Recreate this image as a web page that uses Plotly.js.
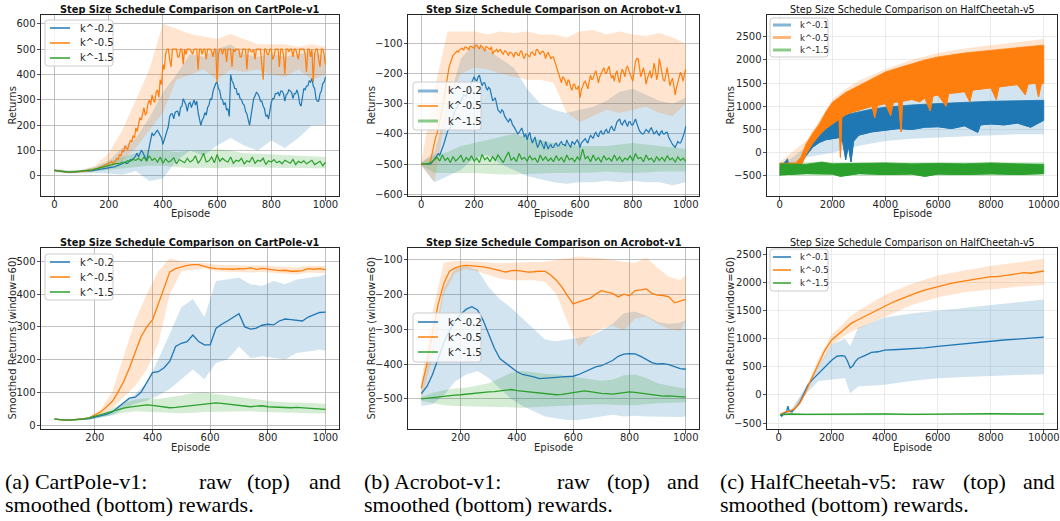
<!DOCTYPE html>
<html><head><meta charset="utf-8">
<script src="https://cdn.plot.ly/plotly-3.0.1.min.js"></script>
<style>html,body{margin:0;padding:0;background:#fff}#chart{width:1060px;height:521px}</style>
</head><body><div id="chart"></div><script>
// ---------- DATA ----------
const seriesNames = ['k^-0.2', 'k^-0.5', 'k^-1.5'];
const seriesNamesHC = ['k^-0.1', 'k^-0.5', 'k^-1.5'];

// raw episodes (every 5 and every 10 episodes)
const rawEpisodes5 = Array.from({length: 201}, (_, i) => i * 5);
const rawEpisodes10 = Array.from({length: 101}, (_, i) => i * 10);

const cpRawBlue = [22,21,20,19,18,17,17,16,16,15,15,15,15,16,16,16,16,17,17,18,
  18,18,18,19,20,19,19,20,21,22,22,23,24,25,25,27,28,29,30,31,
  32,34,35,33,34,37,40,42,42,45,48,52,55,50,50,58,65,62,70,72,
  80,90,75,85,100,95,85,70,60,90,120,150,170,160,165,175,180,170,160,150,
  125,145,160,185,195,235,245,245,225,250,255,255,235,270,275,305,295,280,255,285,
  290,270,285,300,280,295,250,225,200,220,230,250,240,270,280,305,300,335,350,365,
  370,345,335,305,300,280,290,260,265,235,400,375,365,345,345,320,325,305,300,285,
  280,255,245,215,200,235,265,305,315,330,325,315,295,295,275,265,235,240,225,265,
  290,305,305,325,325,330,315,335,335,325,295,320,325,340,335,330,305,325,325,340,
  320,285,275,305,345,340,355,355,375,370,385,355,345,305,295,295,325,335,365,370,
  390];
const cpRawOrange = [22,21,20,19,18,18,17,16,15,15,14,15,15,16,16,15,15,16,17,18,
  18,19,20,19,19,21,22,23,24,26,28,27,30,33,35,34,38,42,44,46,
  48,52,58,50,52,62,70,66,85,78,100,95,120,110,105,125,140,135,160,150,
  190,175,210,230,220,250,270,240,250,285,300,280,320,300,290,330,340,310,380,360,
  440,420,480,500,500,460,430,500,500,500,500,470,470,500,500,440,500,480,500,500,
  500,490,480,500,500,500,420,500,500,480,500,500,460,500,500,500,490,470,500,500,
  370,480,500,500,480,500,500,450,500,500,500,430,500,490,500,500,500,470,470,500,
  500,500,420,500,500,490,490,500,460,500,500,500,500,440,380,500,500,480,480,500,
  500,460,470,500,500,500,430,500,500,480,400,500,500,490,500,500,470,500,500,480,
  460,500,500,500,500,480,410,500,500,470,500,370,480,500,500,460,430,500,500,480,
  440];
const cpRawGreen = [22,20,18,17,16,15,15,16,16,17, 18,19,20,22,24,27,30,33,36,38, 40,42,45,50,48,55,52,60,58,65,
  62,70,60,75,58,80,62,70,55,75, 50,68,55,60,72,48,65,58,52,70, 55,62,80,50,65,90,55,60,75,52,
  85,58,70,60,55,75,50,62,58,70, 48,60,55,75,50,62,58,70,45,60, 55,65,52,58,48,62,55,50,65,45,
  58,52,60,48,55,62,45,52,58,40, 55];

const rawBandEpisodes = [0,50,100,150,200,250,300,350,400,450,500,550,600,650,700,750,800,850,900,950,1000];
const cpRawBlueUp = [28,22,25,35,60,110,150,230,330,400,480,470,500,520,480,470,480,470,480,490,470];
const cpRawBlueLo = [16,10,12,12,10,5,20,-20,-10,60,100,80,120,150,120,100,140,110,150,200,200];
const cpRawOrangeUp = [28,20,24,40,90,180,300,420,600,580,560,550,540,560,540,520,520,520,510,520,510];
const cpRawOrangeLo = [16,12,14,20,30,60,110,180,250,380,400,420,380,420,410,420,400,390,420,380,400];
const cpRawGreenUp = [26,20,22,32,55,75,90,100,100,95,100,100,105,100,90,88,85,82,80,78,75];
const cpRawGreenLo = [18,12,14,18,25,30,35,40,40,35,30,32,30,33,35,34,32,31,30,30,30];

const acRawBlue = [-500,-500,-500,-500,-500,-500,-500,-500,-495,-490,-485,-478,-470,-465,-470,-460,-450,-435,-420,-405,
  -390,-385,-380,-360,-340,-330,-320,-310,-300,-295,-290,-280,-270,-272,-275,-260,-250,-240,-230,-220,
  -210,-220,-225,-210,-205,-225,-240,-230,-230,-245,-255,-245,-250,-270,-290,-285,-280,-300,-320,-325,
  -330,-320,-325,-340,-350,-355,-360,-350,-355,-370,-375,-385,-390,-400,-395,-385,-380,-395,-410,-400,
  -420,-405,-395,-415,-430,-420,-410,-430,-445,-435,-420,-430,-440,-450,-425,-435,-450,-440,-435,-445,
  -445,-435,-430,-440,-440,-430,-425,-435,-435,-440,-420,-430,-440,-445,-425,-430,-435,-425,-420,-430,
  -445,-430,-425,-420,-415,-425,-430,-415,-405,-410,-415,-400,-395,-405,-410,-395,-390,-400,-400,-390,
  -385,-395,-395,-380,-375,-385,-390,-375,-360,-355,-350,-365,-370,-360,-355,-365,-375,-360,-360,-370,
  -370,-360,-350,-365,-380,-390,-395,-400,-400,-390,-385,-390,-395,-385,-380,-390,-400,-395,-390,-400,
  -405,-395,-390,-400,-400,-395,-395,-410,-420,-430,-435,-440,-445,-435,-425,-430,-430,-420,-410,-395,
  -375];
const acRawOrange = [-500,-500,-500,-500,-500,-500,-498,-490,-470,-440,-420,-410,-400,-380,-360,-340,-320,-290,-260,-230,
  -200,-180,-165,-150,-140,-135,-130,-125,-128,-120,-118,-115,-122,-112,-112,-118,-120,-108,-110,-112,
  -115,-108,-105,-112,-118,-106,-110,-115,-125,-110,-112,-118,-120,-110,-135,-125,-125,-118,-128,-122,
  -120,-130,-135,-125,-125,-132,-140,-128,-130,-135,-145,-130,-130,-138,-140,-125,-125,-142,-150,-135,
  -135,-140,-145,-130,-128,-135,-140,-120,-120,-130,-135,-128,-125,-132,-150,-135,-130,-140,-150,-145,
  -145,-160,-175,-190,-200,-215,-230,-210,-215,-225,-240,-220,-225,-245,-255,-235,-235,-250,-250,-240,
  -280,-255,-240,-230,-225,-235,-250,-225,-205,-220,-215,-200,-190,-210,-230,-210,-200,-185,-180,-195,
  -200,-185,-175,-200,-215,-205,-225,-200,-190,-215,-230,-200,-185,-195,-210,-180,-175,-190,-200,-215,
  -225,-190,-160,-150,-150,-180,-210,-195,-180,-200,-235,-215,-200,-190,-215,-200,-165,-185,-220,-200,
  -150,-175,-205,-220,-225,-200,-180,-210,-240,-225,-215,-240,-270,-245,-230,-210,-195,-205,-225,-200,
  -185];
const acRawGreen = [-500,-500,-500,-498,-492,-485,-478,-490,-470,-488, -480,-495,-475,-490,-482,-470,-493,-478,-488,-472,
  -490,-480,-495,-468,-486,-478,-492,-475,-488,-470, -482,-495,-476,-460,-488,-478,-492,-465,-484,-478,
  -490,-472,-486,-480,-495,-470,-488,-476,-490,-480, -492,-472,-488,-478,-494,-470,-486,-480,-492,-476,
  -488,-450,-482,-475,-492,-470,-488,-478,-494,-472, -486,-480,-490,-470,-488,-476,-492,-480,-486,-472,
  -490,-465,-482,-478,-492,-470,-486,-480,-494,-475, -488,-478,-490,-472,-486,-480,-494,-476,-488,-480, -492];
const acRawBlueUp = [-495,-460,-300,-150,-100,-120,-150,-180,-250,-300,-320,-330,-320,-310,-290,-260,-250,-270,-290,-300,-280];
const acRawBlueLo = [-505,-560,-540,-520,-480,-470,-500,-520,-540,-550,-560,-565,-560,-560,-555,-560,-555,-560,-560,-570,-560];
const acRawOrangeUp = [-495,-250,-60,-60,-60,-70,-60,-65,-60,-70,-70,-80,-60,-55,-70,-60,-70,-75,-65,-80,-100];
const acRawOrangeLo = [-505,-560,-300,-200,-180,-185,-200,-210,-220,-220,-230,-330,-360,-340,-320,-330,-320,-310,-330,-340,-300];
const acRawGreenUp = [-495,-470,-460,-440,-430,-420,-410,-400,-410,-420,-430,-435,-440,-440,-440,-435,-430,-435,-440,-445,-450];
const acRawGreenLo = [-505,-530,-530,-530,-530,-532,-535,-535,-535,-532,-530,-530,-530,-528,-525,-528,-530,-528,-525,-525,-525];

// HalfCheetah raw: upper / lower envelopes of the dense per-episode returns
const hcBlueHiEp = [0,300,350,800,1000,1250,1500,1750,2000,2500,3000,3500,4000,5000,6000,7000,8000,9000,10000];
const hcBlueHi = [-330,-130,-300,-220,30,250,450,650,720,820,880,940,980,1030,1060,1090,1110,1120,1130];
const hcBlueLoEp = [0,500,800,1000,1250,1500,1750,2000,2300,2400,2500,2600,2700,2800,3000,3500,4000,4500,5000,5500,6000,6500,7000,7500,7600,8000,8500,9000,9500,10000];
const hcBlueLo = [-480,-370,-230,-60,120,220,280,300,330,200,-150,150,-200,250,380,450,480,520,500,550,560,520,580,440,600,620,600,640,550,700];
const hcOrangeHiEp = [0,300,600,800,1000,1250,1500,1750,2000,2500,3000,3500,4000,4500,5000,5500,6000,6500,7000,7500,8000,8500,9000,9500,10000];
const hcOrangeHi = [-230,-220,-220,-100,190,420,620,880,1090,1300,1450,1600,1740,1830,1920,2000,2066,2110,2150,2180,2210,2240,2270,2290,2320];
const hcOrangeLoEp = [0,500,800,1000,1250,1500,1750,2000,2250,2300,2350,2500,2750,3000,3250,3500,3600,3700,4000,4200,4300,4500,4600,4650,5000,5300,5500,5700,5800,6000,6300,6400,6800,7000,7200,7300,7700,8000,8200,8300,8700,9000,9300,9400,9700,9800,9900,10000];
const hcOrangeLo = [-420,-380,-300,-30,200,380,520,620,720,-100,760,820,880,920,960,1000,750,1020,1060,800,1080,1100,450,1110,1150,1100,1180,900,1220,1250,1000,1280,1300,1320,1100,1350,1380,1400,1150,1420,1450,1470,1250,1480,1500,1200,1480,1500];
const hcGreenHiEp = [0,1000,1600,2000,3000,4000,5000,6000,7000,8000,9000,10000];
const hcGreenHi = [-240,-250,-200,-240,-230,-220,-240,-230,-240,-220,-240,-250];
const hcGreenLoEp = [0,1000,2000,2300,3000,4000,5000,5500,6000,7000,8000,9000,10000];
const hcGreenLo = [-480,-450,-460,-510,-450,-470,-460,-510,-460,-470,-455,-470,-450];
const hcRawBandEp = [0,1000,1500,2000,2500,3000,4000,5000,6000,7000,8000,9000,10000];
const hcRawBlueUp = [-300,120,500,900,1050,1200,1400,1500,1580,1640,1700,1750,1800];
const hcRawBlueLo = [-450,-100,-50,0,80,150,250,300,330,350,380,400,400];
const hcRawOrangeUp = [-200,250,700,1150,1380,1550,1800,2000,2150,2250,2320,2380,2450];
const hcRawOrangeLo = [-450,-100,300,600,750,900,1100,1200,1300,1380,1450,1500,1550];
const hcRawGreenUp = [-200,-200,-200,-200,-200,-200,-200,-200,-200,-200,-200,-200,-200];
const hcRawGreenLo = [-500,-500,-500,-500,-500,-500,-500,-500,-500,-500,-500,-500,-500];

// smoothed (window=60) CartPole / Acrobot
const smEpisodes = [60,80,100,120,140,160,180,200,220,240, 260,280,300,320,340,360,380,400,420,440,
  460,480,500,520,540,560,580,600,620,640, 660,680,700,720,740,760,780,800,820,840, 860,880,900,920,940,960,980,1000];
const cpSmBlue = [18,16,15,16,17,18,20,24,28,33, 40,55,68,82,85,100,130,160,163,175,
  195,240,250,255,275,255,245,245,295,308, 318,328,340,300,293,296,305,308,306,318, 324,322,320,318,330,338,344,345];
const cpSmOrange = [18,16,15,16,17,19,22,30,40,55, 72,100,133,175,225,270,300,321,370,418,
  468,478,483,488,490,490,485,480,478,477, 478,476,478,477,480,476,479,477,474,472, 473,470,470,472,478,476,478,475];
const cpSmGreen = [18,16,15,16,17,19,22,27,32,38, 42,47,52,55,58,60,62,60,58,55,
  53,54,56,58,60,62,63,67,68,66, 64,62,60,57,56,58,59,56,55,54, 54,53,54,53,52,51,50,48];
const acSmBlue = [-485,-465,-430,-385,-340,-305,-278,-258,-243,-236, -245,-275,-315,-355,-385,-398,-410,-422,-430,-433,
  -437,-442,-440,-439,-438,-437,-436,-435,-430,-422, -415,-408,-405,-398,-390,-378,-372,-370,-371,-378,
  -388,-396,-400,-399,-402,-408,-413,-415];
const acSmOrange = [-470,-400,-310,-230,-170,-135,-125,-120,-118,-119, -121,-122,-125,-128,-133,-137,-133,-132,-135,-137,
  -136,-134,-135,-145,-160,-180,-205,-228,-222,-218, -212,-200,-190,-194,-198,-208,-200,-205,-190,-188,
  -185,-198,-203,-204,-208,-225,-220,-215];
const acSmGreen = [-500,-498,-496,-493,-491,-490,-489,-488,-486,-484, -483,-481,-480,-479,-477,-475,-473,-476,-478,-480,
  -482,-484,-486,-487,-488,-487,-484,-481,-478,-477, -479,-482,-484,-485,-486,-484,-481,-480,-481,-483,
  -485,-488,-491,-492,-491,-492,-494,-495];

const smBandEpisodes = [60,100,140,180,220,260,300,340,380,420,460,500,540,580,620,660,700,740,780,820,860,900,940,980,1000];
const cpSmBlueUp = [18,16,17,20,28,40,70,95,130,200,280,360,385,330,440,445,450,430,425,440,430,445,450,455,460];
const cpSmBlueLo = [16,14,14,16,22,30,50,65,75,90,110,140,170,140,190,200,240,205,210,205,200,220,225,230,228];
const cpSmOrangeUp = [20,17,19,25,48,100,210,320,400,470,510,500,495,495,490,488,488,487,488,485,483,482,487,485,486];
const cpSmOrangeLo = [16,13,15,20,30,50,85,120,170,250,400,470,475,478,470,468,468,466,468,465,462,460,466,464,464];
const cpSmGreenUp = [20,17,18,22,32,50,68,78,82,80,85,90,98,100,95,90,85,80,75,72,70,70,68,66,65];
const cpSmGreenLo = [16,14,14,16,22,30,38,42,42,40,38,36,38,40,42,42,42,42,40,38,38,38,36,35,35];
const acSmBlueUp = [-470,-350,-180,-125,-120,-130,-180,-215,-240,-270,-300,-330,-335,-330,-325,-320,-305,-285,-255,-250,-262,-280,-285,-282,-275];
const acSmBlueLo = [-520,-515,-490,-450,-430,-420,-440,-470,-500,-520,-535,-550,-555,-560,-560,-556,-550,-545,-550,-548,-550,-552,-552,-552,-550];
const acSmOrangeUp = [-450,-250,-110,-105,-105,-108,-110,-112,-110,-110,-108,-107,-102,-95,-92,-95,-97,-102,-108,-110,-95,-125,-150,-160,-145];
const acSmOrangeLo = [-510,-380,-200,-140,-128,-135,-145,-155,-160,-160,-160,-165,-200,-280,-350,-320,-300,-290,-305,-270,-265,-285,-300,-305,-275];
const acSmGreenUp = [-495,-482,-475,-470,-468,-462,-455,-440,-425,-420,-425,-428,-430,-435,-440,-445,-448,-445,-432,-430,-440,-455,-462,-468,-470];
const acSmGreenLo = [-505,-512,-518,-520,-520,-522,-522,-523,-525,-525,-524,-523,-522,-520,-518,-516,-515,-516,-518,-518,-515,-512,-510,-510,-510];

// smoothed HalfCheetah
const hcSmBlueEp = [60,120,200,300,350,400,500,600,700,800,900,1000,1100,1250,1500,1750,2000,2200,2400,2500,2600,2700,2800,2900,3000,3250,3500,3750,4000,4500,5000,5500,6000,6500,7000,7500,8000,8500,9000,9500,10000];
const hcSmBlue = [-350,-380,-330,-300,-200,-280,-300,-250,-200,-130,-30,80,170,260,380,500,620,690,700,690,600,480,520,600,650,700,760,770,800,810,820,840,865,890,910,940,955,980,995,1010,1030];
const hcSmOrangeEp = [60,150,250,400,600,800,1000,1200,1500,1750,2000,2250,2500,2750,3000,3250,3500,3750,4000,4250,4500,4750,5000,5250,5500,5750,6000,6250,6500,6750,7000,7250,7500,7750,8000,8250,8500,8750,9000,9250,9500,9750,10000];
const hcSmOrange = [-350,-320,-300,-290,-250,-150,30,250,560,800,980,1080,1180,1280,1340,1400,1470,1520,1580,1640,1690,1740,1790,1830,1870,1900,1940,1960,1990,2010,2030,2050,2070,2090,2110,2110,2130,2150,2160,2180,2170,2190,2210];
const hcSmGreenEp = [60,500,1000,2000,3000,4000,5000,6000,7000,8000,9000,10000];
const hcSmGreen = [-350,-340,-345,-340,-345,-340,-345,-340,-340,-335,-340,-340];
const hcSmBandEp = [60,500,1000,1500,2000,2500,2700,3000,4000,5000,6000,7000,8000,9000,10000];
const hcSmBlueUp = [-330,-250,120,500,900,1000,870,1200,1380,1450,1500,1550,1600,1650,1700];
const hcSmBlueLo = [-370,-350,0,250,280,300,30,150,180,250,300,320,340,360,370];
const hcSmOrangeUp = [-330,-250,80,650,1080,1320,1400,1500,1780,1980,2130,2220,2300,2360,2430];
const hcSmOrangeLo = [-370,-330,0,480,880,1060,1120,1180,1390,1600,1740,1830,1880,1930,1960];
const hcSmGreenUp = [-335,-325,-325,-325,-325,-325,-325,-325,-325,-325,-325,-325,-325,-325,-325];
const hcSmGreenLo = [-365,-355,-355,-355,-355,-355,-355,-355,-355,-355,-355,-355,-355,-355,-355];

const panelTitles = ['Step Size Schedule Comparison on CartPole-v1','Step Size Schedule Comparison on Acrobot-v1','Step Size Schedule Comparison on HalfCheetah-v5'];
const xTitle = 'Episode';
const yTitles = ['Returns', 'Smoothed Returns (window=60)'];

// ---------- DRAWING ----------
const F = '"DejaVu Sans", sans-serif';
const COL = {b:'#1f77b4', o:'#ff7f0e', g:'#2ca02c'};
const FILL = {b:'rgba(31,119,180,0.2)', o:'rgba(255,127,14,0.2)', g:'rgba(44,160,44,0.2)'};
const SOFT = {b:'rgba(31,119,180,0.55)', o:'rgba(255,127,14,0.55)', g:'rgba(44,160,44,0.55)'};
const W = 1060, H = 521;
const px = v => v / W, py = v => 1 - v / H;
const sfx = n => n === 1 ? '' : String(n);

function band(xs, up, lo, key, n, xsLo) {
  xsLo = xsLo || xs;
  return {type:'scatter', mode:'lines', x: xs.concat(xsLo.slice().reverse()), y: up.concat(lo.slice().reverse()),
    fill:'toself', fillcolor: FILL[key], line:{width:0}, hoverinfo:'skip', showlegend:false,
    xaxis:'x'+sfx(n), yaxis:'y'+sfx(n)};
}
function line(xs, ys, name, key, n, w) {
  return {type:'scatter', mode:'lines', x: xs, y: ys, name: name, line:{color: COL[key], width: w || 1.3},
    xaxis:'x'+sfx(n), yaxis:'y'+sfx(n), showlegend:false};
}
function envelope(xh, yh, xl, yl, key, n) {
  return {type:'scatter', mode:'lines', x: xh.concat(xl.slice().reverse()), y: yh.concat(yl.slice().reverse()),
    fill:'toself', fillcolor: COL[key], line:{color: COL[key], width: 0.8}, hoverinfo:'skip', showlegend:false,
    xaxis:'x'+sfx(n), yaxis:'y'+sfx(n)};
}

const traces = [
  band(rawBandEpisodes, cpRawBlueUp, cpRawBlueLo, 'b', 1),
  band(rawBandEpisodes, cpRawOrangeUp, cpRawOrangeLo, 'o', 1),
  band(rawBandEpisodes, cpRawGreenUp, cpRawGreenLo, 'g', 1),
  line(rawEpisodes5, cpRawBlue, seriesNames[0], 'b', 1, 1.2),
  line(rawEpisodes5, cpRawOrange, seriesNames[1], 'o', 1, 1.2),
  line(rawEpisodes10, cpRawGreen, seriesNames[2], 'g', 1, 1.2),

  band(rawBandEpisodes, acRawBlueUp, acRawBlueLo, 'b', 2),
  band(rawBandEpisodes, acRawOrangeUp, acRawOrangeLo, 'o', 2),
  band(rawBandEpisodes, acRawGreenUp, acRawGreenLo, 'g', 2),
  line(rawEpisodes5, acRawBlue, seriesNames[0], 'b', 2, 1.2),
  line(rawEpisodes5, acRawOrange, seriesNames[1], 'o', 2, 1.2),
  line(rawEpisodes10, acRawGreen, seriesNames[2], 'g', 2, 1.2),

  band(hcRawBandEp, hcRawBlueUp, hcRawBlueLo, 'b', 3),
  band(hcRawBandEp, hcRawOrangeUp, hcRawOrangeLo, 'o', 3),
  band(hcRawBandEp, hcRawGreenUp, hcRawGreenLo, 'g', 3),
  envelope(hcBlueHiEp, hcBlueHi, hcBlueLoEp, hcBlueLo, 'b', 3),
  line(hcBlueLoEp, hcBlueLo, seriesNamesHC[0], 'b', 3, 1),
  envelope(hcOrangeHiEp, hcOrangeHi, hcOrangeLoEp, hcOrangeLo, 'o', 3),
  line(hcOrangeLoEp, hcOrangeLo, seriesNamesHC[1], 'o', 3, 1),
  envelope(hcGreenHiEp, hcGreenHi, hcGreenLoEp, hcGreenLo, 'g', 3),
  line(hcGreenLoEp, hcGreenLo, seriesNamesHC[2], 'g', 3, 1),

  band(smBandEpisodes, cpSmBlueUp, cpSmBlueLo, 'b', 4),
  band(smBandEpisodes, cpSmOrangeUp, cpSmOrangeLo, 'o', 4),
  band(smBandEpisodes, cpSmGreenUp, cpSmGreenLo, 'g', 4),
  line(smEpisodes, cpSmBlue, seriesNames[0], 'b', 4),
  line(smEpisodes, cpSmOrange, seriesNames[1], 'o', 4),
  line(smEpisodes, cpSmGreen, seriesNames[2], 'g', 4),

  band(smBandEpisodes, acSmBlueUp, acSmBlueLo, 'b', 5),
  band(smBandEpisodes, acSmOrangeUp, acSmOrangeLo, 'o', 5),
  band(smBandEpisodes, acSmGreenUp, acSmGreenLo, 'g', 5),
  line(smEpisodes, acSmBlue, seriesNames[0], 'b', 5),
  line(smEpisodes, acSmOrange, seriesNames[1], 'o', 5),
  line(smEpisodes, acSmGreen, seriesNames[2], 'g', 5),

  band(hcSmBandEp, hcSmBlueUp, hcSmBlueLo, 'b', 6),
  band(hcSmBandEp, hcSmOrangeUp, hcSmOrangeLo, 'o', 6),
  band(hcSmBandEp, hcSmGreenUp, hcSmGreenLo, 'g', 6),
  line(hcSmBlueEp, hcSmBlue, seriesNamesHC[0], 'b', 6),
  line(hcSmOrangeEp, hcSmOrange, seriesNamesHC[1], 'o', 6),
  line(hcSmGreenEp, hcSmGreen, seriesNamesHC[2], 'g', 6)
];

const colX = [[41,339],[408,699],[767,1057]];
const rowY = [[15,196],[248,429]];
const yTitleX = [12, 371, 730];
const panels = [
  {c:0,r:0, xr:[-50,1050], xd:200, yr:[-79,635], yd:100, grid:'#b0b0b0'},
  {c:1,r:0, xr:[-50,1050], xd:200, yr:[-606,-5], yd:100, grid:'#b0b0b0'},
  {c:2,r:0, xr:[-480,10500], xd:2000, yr:[-934,2970], yd:500, grid:'#e6e6e6'},
  {c:0,r:1, xr:[13,1047], xd:200, yr:[-12,541], yd:100, grid:'#b0b0b0'},
  {c:1,r:1, xr:[13,1047], xd:200, yr:[-586,-68], yd:100, grid:'#b0b0b0'},
  {c:2,r:1, xr:[-437,10497], xd:2000, yr:[-607,2620], yd:500, grid:'#e6e6e6'}
];
// legend boxes: [x0, y0, x1, y1, first item y, item step, font size, line start offset, line length, text offset, soft keys]
const legends = [
  [45,20,113,66, 28,15, 10, 5,20,33, ''],
  [413,82,481,130, 91,15, 10, 5,20,33, 'bg'],
  [770,18,828,57, 25,12.5, 8.5, 3,18,28, 'bog'],
  [45,254,113,300, 262,15, 10, 5,20,33, ''],
  [413,313,481,362, 322,15, 10, 5,20,33, ''],
  [770,249,828,291, 257,13, 8.5, 3,18,28, '']
];

const layout = {width:W, height:H, margin:{l:0,r:0,t:0,b:0}, paper_bgcolor:'#fff', plot_bgcolor:'#fff',
  font:{family:F, color:'#262626'}, annotations:[], shapes:[], showlegend:false};

function axisBase(grid) {
  return {showgrid:true, gridcolor:grid, gridwidth:0.8, zeroline:false, showline:true, mirror:true,
    linecolor:'#262626', linewidth:1, ticks:'outside', ticklen:3.5, tickwidth:0.8, tickcolor:'#262626',
    tickfont:{family:F, size:10, color:'#262626'}, exponentformat:'none', tickformat:'d',
    ticklabeloverflow:'allow', tick0:0, fixedrange:true, automargin:false};
}

function roundRect(x0, y0, x1, y1, r) {
  const X = v => px(v), Y = v => py(v);
  return `M${X(x0+r)},${Y(y0)} L${X(x1-r)},${Y(y0)} Q${X(x1)},${Y(y0)} ${X(x1)},${Y(y0+r)} L${X(x1)},${Y(y1-r)} ` +
    `Q${X(x1)},${Y(y1)} ${X(x1-r)},${Y(y1)} L${X(x0+r)},${Y(y1)} Q${X(x0)},${Y(y1)} ${X(x0)},${Y(y1-r)} ` +
    `L${X(x0)},${Y(y0+r)} Q${X(x0)},${Y(y0)} ${X(x0+r)},${Y(y0)} Z`;
}

panels.forEach((p, i) => {
  const n = i + 1, s = sfx(n);
  const xd = [px(colX[p.c][0]), px(colX[p.c][1])];
  const yd = [py(rowY[p.r][1]), py(rowY[p.r][0])];
  layout['xaxis'+s] = Object.assign(axisBase(p.grid), {domain:xd, range:p.xr, dtick:p.xd, anchor:'y'+s, ticklabelstandoff:-5});
  layout['yaxis'+s] = Object.assign(axisBase(p.grid), {domain:yd, range:p.yr, dtick:p.yd, anchor:'x'+s, ticklabelstandoff:-1});
  layout.annotations.push({xref:'paper', yref:'paper', x:(xd[0]+xd[1])/2, y:py(p.r === 0 ? 9.5 : 242.5),
    xanchor:'center', yanchor:'middle', showarrow:false, text: p.c === 2 ? panelTitles[p.c] : '<b>'+panelTitles[p.c]+'</b>',
    font:{family:F, size: p.c === 2 ? 9.6 : 9.8, color:'#111'}});
  layout.annotations.push({xref:'paper', yref:'paper', x:(xd[0]+xd[1])/2, y:py(p.r === 0 ? 213.5 : 447),
    xanchor:'center', yanchor:'middle', showarrow:false, text:xTitle, font:{family:F, size:10, color:'#262626'}});
  layout.annotations.push({xref:'paper', yref:'paper', x:px(yTitleX[p.c]), y:(yd[0]+yd[1])/2, textangle:-90,
    xanchor:'center', yanchor:'middle', showarrow:false, text:yTitles[p.r], font:{family:F, size:10, color:'#262626'}});
  const L = legends[i];
  const names = p.c === 2 ? seriesNamesHC : seriesNames;
  layout.shapes.push({type:'path', xref:'paper', yref:'paper', path: roundRect(L[0], L[1], L[2], L[3], 3),
    fillcolor:'rgba(255,255,255,0.8)', line:{color:'#cccccc', width:1}, layer:'above'});
  ['b','o','g'].forEach((k, j) => {
    const yy = py(L[4] + j * L[5]);
    const soft = L[10].indexOf(k) >= 0;
    layout.shapes.push({type:'line', xref:'paper', yref:'paper', x0:px(L[0]+L[7]), x1:px(L[0]+L[7]+L[8]), y0:yy, y1:yy,
      line:{color: soft ? SOFT[k] : COL[k], width: soft ? 3 : 1.5}, layer:'above'});
    layout.annotations.push({xref:'paper', yref:'paper', x:px(L[0]+L[9]), y:yy, xanchor:'left', yanchor:'middle',
      showarrow:false, text:names[j], font:{family:F, size:L[6], color:'#262626'}});
  });
});

// captions
const SERIF = '"Liberation Serif", "Times New Roman", serif';
const captionLine1 = [
  [['(a) CartPole-v1:',3,'left'],['raw',197,'left'],['(top)',245,'left'],['and',343,'right']],
  [['(b) Acrobot-v1:',362,'left'],['raw',555,'left'],['(top)',605,'left'],['and',701,'right']],
  [['(c) HalfCheetah-v5:',718,'left'],['raw',910,'left'],['(top)',961,'left'],['and',1057,'right']]
];
const captionLine2 = [['smoothed (bottom) rewards.',3],['smoothed (bottom) rewards.',362],['smoothed (bottom) rewards.',718]];
captionLine1.forEach(words => words.forEach(w => layout.annotations.push({xref:'paper', yref:'paper', x:px(w[1]), y:py(481),
  xanchor:w[2], yanchor:'middle', showarrow:false, text:w[0], font:{family:SERIF, size:22, color:'#000'}})));
captionLine2.forEach(w => layout.annotations.push({xref:'paper', yref:'paper', x:px(w[1]), y:py(504),
  xanchor:'left', yanchor:'middle', showarrow:false, text:w[0], font:{family:SERIF, size:22, color:'#000'}}));

Plotly.newPlot('chart', traces, layout, {staticPlot:true, displayModeBar:false});
</script></body></html>
